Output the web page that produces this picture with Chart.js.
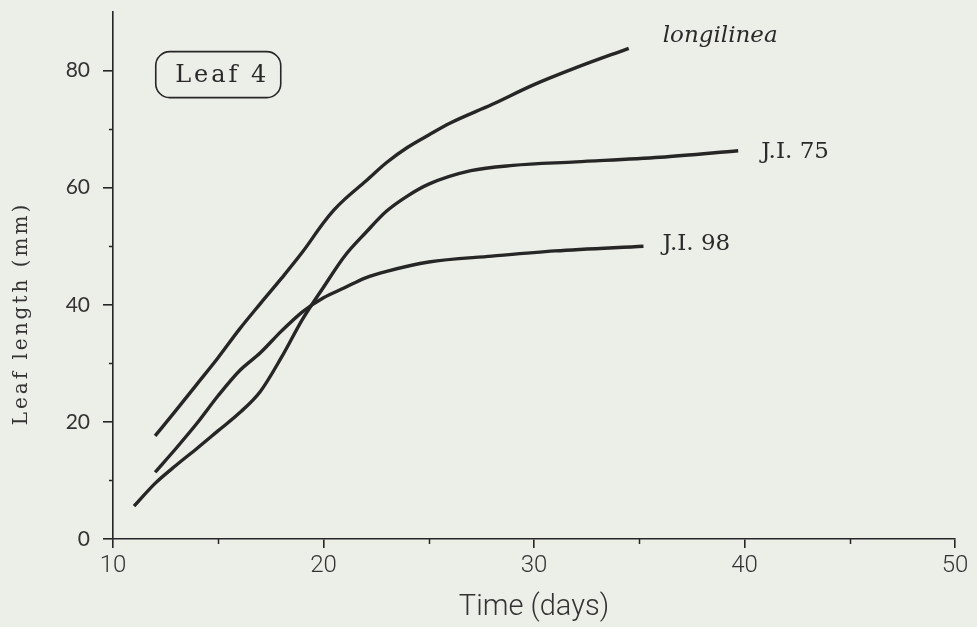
<!DOCTYPE html>
<html>
<head>
<meta charset="utf-8">
<script src="https://cdn.jsdelivr.net/npm/chart.js@4.4.1/dist/chart.umd.min.js"></script>
<style>
  html, body { margin: 0; padding: 0; background: #eceee8; }
  #wrap { width: 977px; height: 627px; position: relative; }
</style>
</head>
<body>
<div id="wrap"><canvas id="c" width="977" height="627"></canvas></div>
<script>
// ---- data ----
const longDays = [12, 13, 14, 15, 16, 17, 18, 19, 20, 20.5, 21, 22, 23, 24, 25, 26, 28, 30, 32, 34.5];
const longVals = [17.6, 22.0, 26.5, 31.0, 35.8, 40.2, 44.5, 49.0, 54.0, 56.2, 58.0, 61.1, 64.3, 66.9, 69.0, 71.0, 74.2, 77.6, 80.5, 83.8];

const ji75Days = [11, 12, 13, 14, 15, 16, 17, 18, 19, 20, 21, 22, 23, 24, 25, 27, 29, 32, 36, 39.7];
const ji75Vals = [5.6, 9.5, 12.6, 15.5, 18.5, 21.5, 25.2, 31.0, 37.5, 43.0, 48.3, 52.3, 56.0, 58.6, 60.6, 62.9, 63.8, 64.4, 65.2, 66.3];

const ji98Days = [12, 13, 14, 15, 16, 17, 18, 19, 20, 21, 22, 23, 25, 28, 31, 35.2];
const ji98Vals = [11.4, 15.5, 19.8, 24.5, 28.7, 31.8, 35.5, 38.8, 41.2, 42.9, 44.6, 45.7, 47.3, 48.3, 49.2, 50.0];

const seriesNames = ["longilinea", "J.I. 75", "J.I. 98"];
const xMajorTicks = [10, 20, 30, 40, 50];
const xMinorTicks = [15, 25, 35, 45];
const yMajorTicks = [0, 20, 40, 60, 80];
const yMinorTicks = [10, 30, 50, 70];
const panelLabel = "Leaf 4";
const xTitle = "Time (days)";
const yTitle = "Leaf length (mm)";

const toPts = (xs, ys) => xs.map((x, i) => ({ x: x, y: ys[i] }));

const INK = '#262626';

const lineStyle = {
  borderColor: INK,
  borderWidth: 3.4,
  pointRadius: 0,
  fill: false,
  cubicInterpolationMode: 'monotone'
};

const decor = {
  id: 'decor',
  afterDraw(chart) {
    const ctx = chart.ctx;
    const xs = chart.scales.x, ys = chart.scales.y;
    ctx.save();
    // minor ticks
    ctx.strokeStyle = INK;
    ctx.lineWidth = 1.5;
    yMinorTicks.forEach(v => {
      const py = Math.round(ys.getPixelForValue(v)) + 0.5;
      ctx.beginPath(); ctx.moveTo(xs.left - 4, py); ctx.lineTo(xs.left, py); ctx.stroke();
    });
    xMinorTicks.forEach(v => {
      const px = Math.round(xs.getPixelForValue(v)) + 0.5;
      ctx.beginPath(); ctx.moveTo(px, ys.bottom); ctx.lineTo(px, ys.bottom + 5); ctx.stroke();
    });

    // series labels at line ends
    const ends = [
      { name: seriesNames[0], x: longDays[longDays.length - 1], y: longVals[longVals.length - 1], dx: 34, dy: -12, italic: true },
      { name: seriesNames[1], x: ji75Days[ji75Days.length - 1], y: ji75Vals[ji75Vals.length - 1], dx: 23, dy: 1, italic: false },
      { name: seriesNames[2], x: ji98Days[ji98Days.length - 1], y: ji98Vals[ji98Vals.length - 1], dx: 19, dy: -2, italic: false }
    ];
    ctx.fillStyle = '#2a2a2a';
    ctx.textBaseline = 'middle';
    ctx.textAlign = 'left';
    ends.forEach(e => {
      ctx.font = (e.italic ? 'italic ' : '') + '23px "DejaVu Serif", "Liberation Serif", serif';
      ctx.fillText(e.name, xs.getPixelForValue(e.x) + e.dx, ys.getPixelForValue(e.y) + e.dy);
    });

    // panel label box
    const cx = xs.getPixelForValue(15), cy = ys.getPixelForValue(79.3);
    const w = 125, h = 46, r = 14;
    const bx = cx - w / 2, by = cy - h / 2;
    ctx.lineWidth = 1.6;
    ctx.strokeStyle = INK;
    ctx.beginPath();
    ctx.roundRect(bx, by, w, h, r);
    ctx.stroke();
    ctx.font = '24px "DejaVu Serif", "Liberation Serif", serif';
    ctx.textAlign = 'center';
    try { ctx.letterSpacing = '3px'; } catch (err) {}
    ctx.fillText(panelLabel, cx + 4, cy + 1);

    // y-axis title
    ctx.translate(22, ys.getPixelForValue(38.5));
    ctx.rotate(-Math.PI / 2);
    ctx.font = '20px "DejaVu Serif", "Liberation Serif", serif';
    try { ctx.letterSpacing = '3px'; } catch (err) {}
    ctx.fillStyle = '#333';
    ctx.textAlign = 'center';
    ctx.textBaseline = 'middle';
    ctx.fillText(yTitle, 0, 0);
    try { ctx.letterSpacing = '0px'; } catch (err) {}
    ctx.restore();
  }
};

new Chart(document.getElementById('c'), {
  type: 'line',
  data: {
    datasets: [
      Object.assign({ label: seriesNames[0], data: toPts(longDays, longVals) }, lineStyle),
      Object.assign({ label: seriesNames[1], data: toPts(ji75Days, ji75Vals) }, lineStyle),
      Object.assign({ label: seriesNames[2], data: toPts(ji98Days, ji98Vals) }, lineStyle)
    ]
  },
  options: {
    responsive: false,
    animation: false,
    layout: { padding: { top: 12, right: 22, left: 0, bottom: 0 } },
    plugins: { legend: { display: false }, tooltip: { enabled: false } },
    scales: {
      x: {
        type: 'linear',
        min: 10, max: 50,
        afterBuildTicks: s => { s.ticks = xMajorTicks.map(v => ({ value: v })); },
        afterFit: s => { s.height = 88; s.paddingLeft = 0; s.paddingRight = 0; },
        border: { display: true, color: INK, width: 1.6 },
        grid: { drawOnChartArea: false, drawTicks: true, tickLength: 9, color: INK, lineWidth: 1.6 },
        ticks: {
          padding: 4,
          color: '#333',
          font: { family: 'Roboto, sans-serif', size: 24, weight: '300' },
          maxRotation: 0
        },
        title: {
          display: true,
          text: xTitle,
          color: '#333',
          font: { family: 'Roboto, sans-serif', size: 29, weight: '300' },
          padding: { top: 0, bottom: 2 }
        }
      },
      y: {
        type: 'linear',
        min: 0, max: 90,
        afterBuildTicks: s => { s.ticks = yMajorTicks.map(v => ({ value: v })); },
        afterFit: s => { s.width = 113; s.paddingTop = 0; s.paddingBottom = 0; },
        border: { display: true, color: INK, width: 1.6 },
        grid: { drawOnChartArea: false, drawTicks: true, tickLength: 10, color: INK, lineWidth: 1.6 },
        ticks: {
          padding: 13,
          color: '#333',
          font: { family: 'Lato, "Open Sans", sans-serif', size: 21 }
        }
      }
    }
  },
  plugins: [decor]
});
</script>
</body>
</html>
